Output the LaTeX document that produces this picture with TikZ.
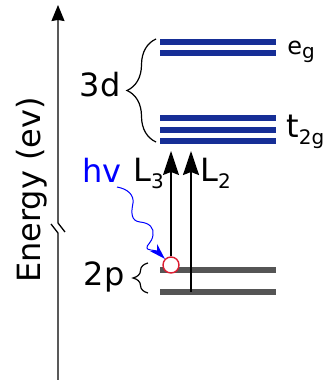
\documentclass[tikz,border=0pt]{standalone}
\usepackage{fontspec}
\setmainfont{DejaVu Sans}
\usetikzlibrary{arrows.meta,decorations.pathreplacing,positioning}

\definecolor{dblue}{RGB}{22,46,150}
\definecolor{pgray}{RGB}{85,85,85}
\definecolor{holered}{RGB}{220,30,50}

\newcommand{\lowtxt}[3]{\raisebox{-#1}{\fontsize{#2}{#2}\selectfont #3}}

\begin{document}
\begin{tikzpicture}[x=0.5pt, y=0.5pt, >=Stealth]
    \tikzstyle{dlevel} = [draw=dblue, line width=2.8pt]
    \tikzstyle{plevel} = [draw=pgray, line width=2.8pt]
    \tikzstyle{brace}  = [draw, line width=0.6pt, decorate]
    \tikzstyle{lbl}    = [inner sep=0pt, font=\fontsize{16}{19}\selectfont]
    \tikzstyle{trans}  = [->, >={Stealth[length=12pt, width=8pt, inset=1.5pt]}]
    \tikzstyle{photon} = [draw=blue, line width=0.5pt, ->, >={Stealth[length=8pt, width=5pt]}]

    \useasboundingbox (0,0) rectangle (325,385);

    % energy axis with break
    \coordinate (top) at (58,380);
    \coordinate (brkhi) at (58,162);
    \coordinate (brklo) at (58,152);
    \coordinate (bot) at (58,5);
    \draw [line width=0.65pt, ->, >={Stealth[length=8pt, width=6.5pt, inset=0.5pt]}] (65,153) -- (brkhi) -- (top);
    \draw [line width=0.65pt] (51,161) -- (brklo) -- (bot);
    \node [lbl, rotate=90, anchor=base] (energy) at (40,195) {Energy (ev)};

    % levels
    \foreach \y in {343,332} \draw [dlevel] (160,\y) -- (276,\y);
    \foreach \y in {267,255,244} \draw [dlevel] (160,\y) -- (276,\y);
    \foreach \y in {115,93} \draw [plevel] (160,\y) -- (276,\y);

    \node [lbl, anchor=base west, font=\fontsize{12}{14}\selectfont] (eg) at (287,330) {e\lowtxt{2pt}{10}{g}};
    \node [lbl, anchor=base west] (t2g) at (286,247) {t\lowtxt{3.5pt}{10}{2g}};

    % braces
    \draw [brace, decoration={brace, amplitude=14.5pt}] (156,243) -- (156,346);
    \draw [brace, decoration={brace, amplitude=7.5pt}] (148,92) -- (148,122);
    \node [lbl, anchor=base east] (d3) at (121,288) {3d};
    \node [lbl, anchor=base east] (p2) at (125,99) {2p};

    % core hole and transitions
    \node [circle, draw=holered, fill=white, line width=0.7pt, minimum size=8pt, inner sep=0pt] (hole) at (171,120) {};
    \coordinate (l3top) at (171,234);
    \coordinate (l2bot) at (191,93);
    \coordinate (l2top) at (191,234);
    \draw [trans, line width=0.6pt] (hole) -- (l3top);
    \draw [trans, line width=0.9pt] (l2bot) -- (l2top);
    \node [lbl, anchor=base west] (L3) at (133,203) {L\lowtxt{3.5pt}{10}{3}};
    \node [lbl, anchor=base west] (L2) at (200,203) {L\lowtxt{3.5pt}{10}{2}};

    % incoming photon
    \node [lbl, anchor=base east, text=blue] (hv) at (122,202) {hv};
    \coordinate (wave) at (117,198);
    \draw [photon] (wave) .. controls (128,196) and (134,190) .. (133,182)
        .. controls (131,172) and (131,164) .. (140,163)
        .. controls (150,162) and (154,157) .. (153,150)
        .. controls (152,142) and (146,140) .. (147,137)
        .. controls (147,135) and (152,135) .. (157,134) -- (hole);
\end{tikzpicture}
\end{document}
